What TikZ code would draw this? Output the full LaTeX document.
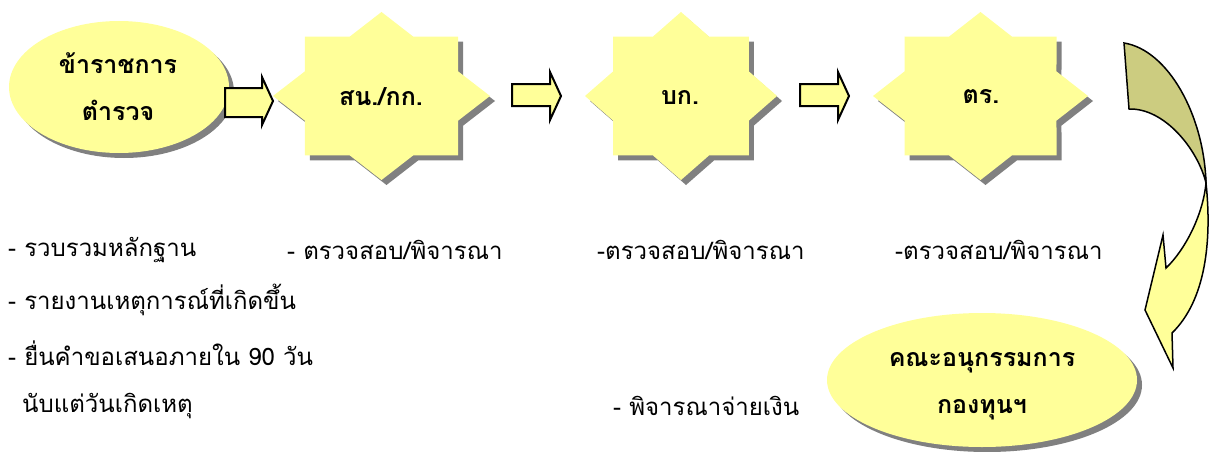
\documentclass[tikz,border=0pt]{standalone}
\usepackage{fontspec}
\setmainfont[Script=Thai]{Loma}
\definecolor{paleyellow}{HTML}{FFFF99}
\definecolor{shadowgray}{HTML}{808080}
\definecolor{olivefill}{HTML}{CCCC80}
\newcommand\eightstar[5]{%
  \path[#1] plot[samples at={0,22.5,...,337.5}, variable=\t]
    ({#2+(0.8825+0.1175*cos(8*\t))*#4*cos(\t)},{#3+(0.8825+0.1175*cos(8*\t))*#5*sin(\t)}) -- cycle;}
\newcommand\blockarrow[7]{% x1, xb, tip x, body top, body bottom, head top, head bottom
  \draw[barrow] (#1,#4) -- (#2,#4) -- (#2,#6) -- (#3,{(#6+#7)/2}) -- (#2,#7) -- (#2,#5) -- (#1,#5) -- cycle;}
\begin{document}
\begin{tikzpicture}[x=1pt,y=-1pt,
  barrow/.style={draw=black, line width=2pt, fill=paleyellow, line join=miter},
  shapefill/.style={fill=paleyellow},
  shadowfill/.style={fill=shadowgray},
  title/.style={font=\fontsize{25}{47}\selectfont\bfseries, align=center, inner sep=0pt},
  bodytext/.style={font=\fontsize{24}{26}\selectfont, anchor=west, inner sep=0pt},
  curvearrow/.style={draw=black, line width=1.5pt, line join=miter}]
\useasboundingbox (0,0) rectangle (1209,452);
% left ellipse
\fill[shadowfill] (124,92) ellipse [x radius=110, y radius=66];
\fill[shapefill] (119,87) ellipse [x radius=110, y radius=66];
\node[title] (police) at (118,87) {ข้าราชการ\\ตำรวจ};
% stars
\eightstar{shadowfill}{386.5}{101}{108.5}{84}
\eightstar{shapefill}{381.5}{96}{108.5}{84}
\node[title] (snkk) at (381,97) {สน./กก.};
\eightstar{shadowfill}{686}{101}{96}{84}
\eightstar{shapefill}{681}{96}{96}{84}
\node[title] (bk) at (680,97) {บก.};
\eightstar{shadowfill}{985.5}{101}{107.5}{84}
\eightstar{shapefill}{980.5}{96}{107.5}{84}
\node[title] (tr) at (981,97) {ตร.};
% block arrows
\blockarrow{225}{262}{273}{88}{117}{77}{125}
\blockarrow{512}{550}{561}{84}{106}{72}{120}
\blockarrow{800}{838}{849}{84}{106}{72}{120}
% curved arrow
\path[curvearrow, fill=olivefill] (1124,43) .. controls (1168,50) and (1204,115) .. (1206,183)
  .. controls (1198,150) and (1165,108) .. (1129,109) -- cycle;
\path[curvearrow, fill=paleyellow] (1206,183) .. controls (1212,240) and (1206,300) .. (1172,333)
  -- (1173,368) -- (1145,310) -- (1163,235) -- (1166,268)
  .. controls (1185,250) and (1203,215) .. (1206,183) -- cycle;
% bottom ellipse
\fill[shadowfill] (987,385) ellipse [x radius=155, y radius=67];
\fill[shapefill] (982,380) ellipse [x radius=155, y radius=67];
\node[title] (fund) at (982,386) {คณะอนุกรรมการ\\กองทุนฯ};
% texts
\node[bodytext] (t1) at (8,250) {- รวบรวมหลักฐาน};
\node[bodytext] (t2) at (8,300) {- รายงานเหตุการณ์ที่เกิดขึ้น};
\node[bodytext] (t3) at (8,353) {- ยื่นคำขอเสนอภายใน 90 วัน};
\node[bodytext] (t4) at (22,406) {นับแต่วันเกิดเหตุ};
\node[bodytext] (t5) at (287,250) {- ตรวจสอบ/พิจารณา};
\node[bodytext] (t6) at (597,250) {-ตรวจสอบ/พิจารณา};
\node[bodytext] (t7) at (895,250) {-ตรวจสอบ/พิจารณา};
\node[bodytext] (t8) at (613,406) {- พิจารณาจ่ายเงิน};
\end{tikzpicture}
\end{document}
